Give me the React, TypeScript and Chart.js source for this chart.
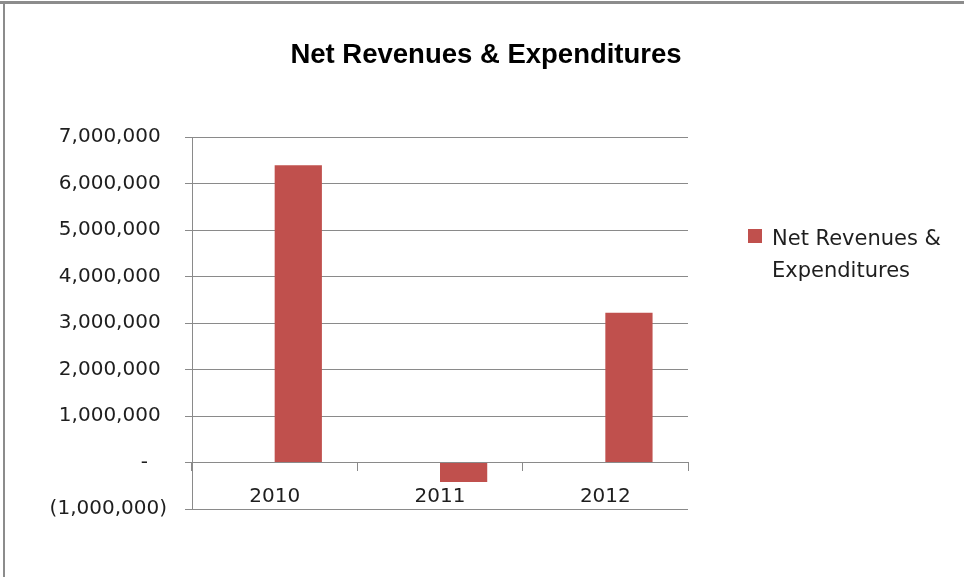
import React, { useEffect, useRef } from "react";
import { Chart, registerables } from "chart.js";

Chart.register(...registerables);

const categories = ["2010", "2011", "2012"];
const seriesName = "Net Revenues & Expenditures";
const legendLines = ["Net Revenues &", "Expenditures"];
// Excel placed the series in the second slot of each category (first slot blank)
const blankSeries: (number | null)[] = [null, null, null];
const values = [6390000, -420000, 3220000];
const yMin = -1000000;
const yMax = 7000000;
const yStep = 1000000;

const BAR_COLOR = "#C0504D";
const GRID = "#8a8a8a";
const TEXT = "#1e1e1e";

function fmt(v: number): string {
  if (v === 0) return "-   ";
  const s = Math.abs(v).toLocaleString("en-US");
  return v < 0 ? "(" + s + ")" : s + " ";
}

const overlay = {
  id: "overlay",
  afterDraw(chart: any) {
    const ctx = chart.ctx;
    const area = chart.chartArea;
    ctx.save();
    // title
    ctx.fillStyle = "#000000";
    ctx.font = "bold 27.5px 'Liberation Sans'";
    ctx.textAlign = "center";
    ctx.textBaseline = "alphabetic";
    ctx.fillText(seriesName, (area.left + area.right) / 2 + 46, 63);
    // legend
    const lx = area.right + 60;
    ctx.fillStyle = BAR_COLOR;
    ctx.fillRect(lx, 229, 14, 14);
    ctx.fillStyle = TEXT;
    ctx.font = "21px 'DejaVu Sans'";
    ctx.textAlign = "left";
    ctx.fillText(legendLines[0], lx + 24, 245);
    ctx.fillText(legendLines[1], lx + 24, 276.5);
    ctx.restore();
  },
};

export default function App() {
  const ref = useRef<HTMLCanvasElement | null>(null);
  useEffect(() => {
    if (!ref.current) return;
    const chart = new Chart(ref.current, {
      type: "bar",
      data: {
        labels: categories,
        datasets: [
          {
            label: "",
            data: blankSeries,
            backgroundColor: "rgba(0,0,0,0)",
            borderWidth: 0,
            categoryPercentage: 0.5714,
            barPercentage: 1,
          },
          {
            label: seriesName,
            data: values,
            backgroundColor: BAR_COLOR,
            borderWidth: 0,
            categoryPercentage: 0.5714,
            barPercentage: 1,
          },
        ],
      },
      options: {
        animation: false,
        responsive: false,
        maintainAspectRatio: false,
        layout: { padding: { top: 137, bottom: 68, left: 0, right: 276 } },
        plugins: {
          legend: { display: false },
          title: { display: false },
          tooltip: { enabled: false },
        },
        scales: {
          x: {
            position: { y: 0 } as any,
            afterFit: (s: any) => {
              s.height = 0;
            },
            grid: {
              display: true,
              offset: true,
              drawOnChartArea: false,
              drawTicks: true,
              tickLength: 8,
              color: GRID,
              lineWidth: 1,
            },
            border: { display: true, color: GRID, width: 1 },
            ticks: {
              color: TEXT,
              font: { family: "'DejaVu Sans'", size: 20 },
              padding: 14,
              maxRotation: 0,
            },
          },
          y: {
            min: yMin,
            max: yMax,
            afterFit: (s: any) => {
              s.width = 192;
            },
            grid: {
              color: GRID,
              lineWidth: 1,
              drawTicks: true,
              tickLength: 7,
            },
            border: { display: true, color: GRID, width: 1 },
            ticks: {
              stepSize: yStep,
              color: TEXT,
              font: { family: "'DejaVu Sans'", size: 20 },
              padding: 18,
              callback: (v: any) => fmt(Number(v)),
            },
          },
        },
      },
      plugins: [overlay],
    });
    return () => chart.destroy();
  }, []);

  return (
    <div style={{ position: "absolute", left: 0, top: 0, width: 964, height: 577, background: "#fff", overflow: "hidden" }}>
      <canvas ref={ref} width={964} height={577} style={{ position: "absolute", left: 0, top: 0, width: 964, height: 577 }} />
      <div style={{ position: "absolute", left: 0, top: 1, width: 964, height: 3, background: "#8c8c8c" }} />
      <div style={{ position: "absolute", left: 3, top: 1, width: 2, height: 576, background: "#8c8c8c" }} />
    </div>
  );
}
